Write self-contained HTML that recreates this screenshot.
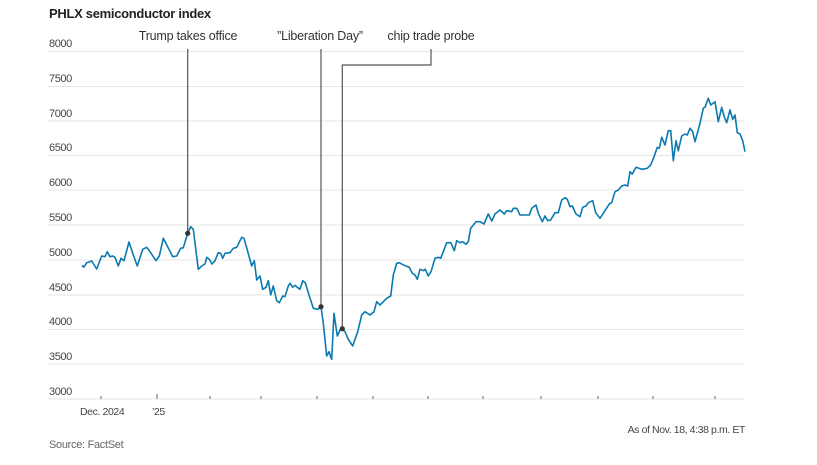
<!DOCTYPE html>
<html><head><meta charset="utf-8"><style>
html,body{margin:0;padding:0;background:#fff;}
svg{display:block;font-family:"Liberation Sans",sans-serif;}
</style></head><body>
<svg width="817" height="465" viewBox="0 0 817 465">
<text x="49" y="18" font-size="13" font-weight="bold" fill="#222" letter-spacing="-0.3">PHLX semiconductor index</text>
<g stroke="#e6e6e6" stroke-width="1">
<line x1="48" x2="745" y1="51.5" y2="51.5"/><line x1="48" x2="745" y1="86.5" y2="86.5"/>
<line x1="48" x2="745" y1="121" y2="121"/><line x1="48" x2="745" y1="155.5" y2="155.5"/>
<line x1="48" x2="745" y1="190" y2="190"/><line x1="48" x2="745" y1="225" y2="225"/>
<line x1="48" x2="745" y1="260" y2="260"/><line x1="48" x2="745" y1="295" y2="295"/>
<line x1="48" x2="745" y1="329.5" y2="329.5"/><line x1="48" x2="745" y1="364" y2="364"/>
<line x1="48" x2="745" y1="399" y2="399"/>
</g>
<g font-size="11" fill="#444" letter-spacing="-0.4">
<text x="49" y="47">8000</text><text x="49" y="82">7500</text><text x="49" y="117">7000</text>
<text x="49" y="151">6500</text><text x="49" y="186">6000</text><text x="49" y="221">5500</text>
<text x="49" y="256">5000</text><text x="49" y="291">4500</text><text x="49" y="325">4000</text>
<text x="49" y="360">3500</text><text x="49" y="395">3000</text>
</g>
<g stroke="#666" stroke-width="1">
<line x1="101" x2="101" y1="396" y2="399"/><line x1="157" x2="157" y1="394" y2="399"/>
<line x1="210" x2="210" y1="396" y2="399"/><line x1="261" x2="261" y1="396" y2="399"/>
<line x1="317" x2="317" y1="396" y2="399"/><line x1="373" x2="373" y1="396" y2="399"/>
<line x1="428" x2="428" y1="396" y2="399"/><line x1="483" x2="483" y1="396" y2="399"/>
<line x1="541" x2="541" y1="396" y2="399"/><line x1="598" x2="598" y1="396" y2="399"/>
<line x1="653" x2="653" y1="396" y2="399"/><line x1="715" x2="715" y1="396" y2="399"/>
</g>
<g font-size="10.5" fill="#444" letter-spacing="-0.4">
<text x="80" y="415">Dec. 2024</text><text x="152" y="415">’25</text>
<text x="745" y="433" text-anchor="end">As of Nov. 18, 4:38 p.m. ET</text>
</g>
<text x="49" y="448" font-size="11" fill="#666" letter-spacing="-0.3">Source: FactSet</text>
<g stroke="#555" stroke-width="1.2" fill="none">
<line x1="187.7" x2="187.7" y1="49" y2="233"/>
<line x1="321" x2="321" y1="49" y2="307"/>
<polyline points="342.3,329 342.3,65 431,65 431,49"/>
</g>
<g font-size="12.5" fill="#333" text-anchor="middle" letter-spacing="-0.2">
<text x="188" y="40">Trump takes office</text>
<text x="320" y="40">”Liberation Day”</text>
<text x="431" y="40">chip trade probe</text>
</g>
<polyline fill="none" stroke="#0a7ab0" stroke-width="1.6" stroke-linejoin="round" points="81.7,265.7 84,267 86.7,262.7 91.7,261 96.7,269 101.7,256 105,256.7 107.3,251.7 110,256.7 112.7,256 115,257.3 118.3,266 121,258.3 124,260.7 129,242 133.3,255 137.3,266 142.7,249.3 146.7,247.3 150,251.7 156,260.7 159.3,256 163.3,238.3 167.3,246 172.7,256.7 176.7,256 180.7,248.3 183.3,247.7 187.7,233.3 190.7,226.7 193.3,229.3 198.3,269.3 201.7,266 205,264 206.7,257.3 209.3,259.3 212,264 215,260.7 218.3,252.7 220.7,253.3 222.7,258.3 225,253.3 230,252.7 233.3,248.3 236.7,247.3 241.7,237.3 244,238.3 247.3,250 251.7,266 254.3,260.7 256.7,280 260,276 262.7,289.3 266,287.3 268.3,280.7 270.7,295 273.3,286 276.7,300.7 279.3,302.7 282.7,296 285,296.7 288.3,286 290,283.3 292.7,287.3 295,285.3 297.3,287.3 300,289.3 302.7,280.7 305.3,282.7 309.3,296 313.3,308.3 318.3,309.3 321,306.7 323.3,323.3 326.7,356 329,351.7 331.7,359.3 334,313.3 337.3,336 340,330 342.3,328.7 345,331.7 348.3,339.3 352.7,346 357.7,331.7 361.7,315 365,311.7 370,315 374,311.7 376.7,301.7 380,305 386.7,298.3 390.7,296 393.3,275 396.7,263.3 399.3,262.7 404,265.3 409.3,267.3 412.3,273.3 415,275 417.3,279.3 420,269.3 423.3,270.7 425.3,269.3 428.3,276 431,271.7 435,258.3 438.3,257.3 440.7,258.3 443.3,251.7 446.7,242.7 450.7,242.7 454.3,250.7 456.7,240.7 460,242.7 462.7,241.7 466,244.3 468.3,241.7 470.7,228.3 476,221.7 480,221.7 484,224 488.3,214 491.7,221 495,214 500,210 504.3,214 506.7,210.7 511.7,211.7 513.3,208.3 516.7,208.3 520,215 523.3,215 529.3,215 531.7,208.3 536,205 538.3,213.3 542.3,221.7 545,216 547.7,220.7 550.7,220 555,212.7 558.3,212.7 561.7,200 565,197.7 567.3,199.3 570,206.7 572.3,206 576,214 580,216.7 582.7,207.3 586,206 588.3,202.7 592.7,200.7 595.7,212.7 600,218.3 605,210.7 609.3,204 611.7,202.7 615,191.7 618.3,190 621.7,186 625,185 627.7,186 630,171.7 632.3,174 636,167.3 641.7,169.3 647.3,168.3 650.7,165 654,156.7 657.3,147.3 659.3,148.3 661.7,137.3 665,145 668.3,130.7 670.7,130.7 673.3,160.7 676,140.7 678.3,150.7 681.7,136 685,134 687.3,135 690,128.3 692.7,131.7 695,141.7 700,123.3 703.3,108.3 705.3,106.7 708.3,98.3 710.7,105 715,101.7 718.3,121.7 721.7,107.3 724,116 726.7,122.7 730,110 732.7,119.3 735,115 737.3,132.7 740,134 742.7,140.7 745,151.7"/>
<g fill="#333">
<circle cx="187.7" cy="233.3" r="2.6"/><circle cx="321" cy="306.7" r="2.6"/><circle cx="342.3" cy="328.7" r="2.6"/>
</g>
</svg>
</body></html>
